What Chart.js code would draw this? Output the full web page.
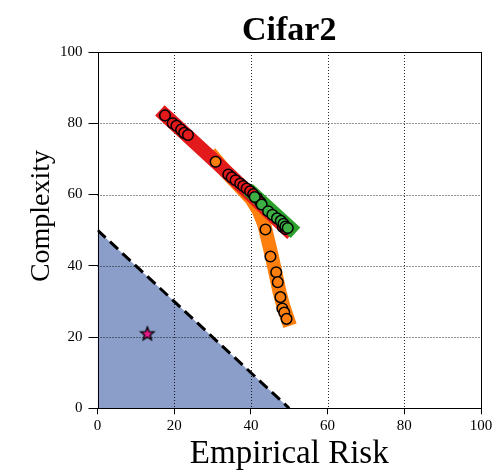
<!DOCTYPE html>
<html>
<head>
<meta charset="utf-8">
<script src="https://cdn.jsdelivr.net/npm/chart.js@4.4.1/dist/chart.umd.min.js"></script>
<style>
  html, body { margin: 0; padding: 0; background: #fff; }
  #wrap { width: 492px; height: 471px; }
</style>
</head>
<body>
<div id="wrap"><canvas id="c" width="492" height="471"></canvas></div>
<script>
// Axis ticks
const xTicks = [0, 20, 40, 60, 80, 100];
const yTicks = [0, 20, 40, 60, 80, 100];

// Feasible region boundary: empirical risk + complexity = 50
const boundary = [[0, 50], [50, 0]];

// Trend bands for each training run
const orangeTrend = [[30.5, 70.2], [33.5, 66.4], [37, 62.4], [40, 59], [42, 55.6], [43.5, 51.5], [44.5, 47], [45.5, 42.5], [46.5, 37.5], [47.5, 32.5], [48.5, 28.5], [49.6, 25]];
const redTrend = [[17.6, 82.3], [34, 66], [49.4, 50.3]];
const greenTrend = [[40.6, 60.2], [50.3, 50.6]];

// Individual checkpoints (empirical risk, complexity)
const orangePts = [[30.8, 69.2], [43.8, 50.2], [45.1, 42.6], [46.6, 38.2], [47.0, 35.4], [47.7, 31.2], [48.2, 28.0], [48.7, 26.9], [49.3, 25.1]];
const redPts = [[17.6, 82.2], [19.6, 80.0], [20.6, 79.3], [21.8, 78.2], [22.6, 77.3], [23.6, 76.7], [34.1, 65.6], [35.0, 64.8], [36.0, 64.0], [37.2, 63.1], [38.0, 62.4], [38.9, 61.7], [39.8, 60.9], [40.6, 60.1], [41.6, 59.0], [42.5, 57.8], [48.3, 50.9], [49.0, 50.3]];
const greenPts = [[41.0, 59.3], [42.8, 57.2], [44.5, 55.3], [45.6, 54.3], [46.8, 53.3], [47.8, 52.6], [48.5, 51.8], [49.0, 51.0], [49.6, 50.6]];
const target = [[13.0, 21.0]];

const SERIF = '"Liberation Serif", "DejaVu Serif", serif';
const toXY = a => a.map(p => ({x: p[0], y: p[1]}));

// Five-pointed star marker
function starMarker(outer, inner, fill) {
  const size = Math.ceil(outer * 2 + 4);
  const cv = document.createElement('canvas');
  cv.width = size; cv.height = size;
  const g = cv.getContext('2d');
  const c = size / 2;
  g.beginPath();
  for (let i = 0; i < 10; i++) {
    const r = i % 2 === 0 ? outer : inner;
    const a = -Math.PI / 2 + i * Math.PI / 5;
    const px = c + r * Math.cos(a), py = c + 0.6 + r * Math.sin(a);
    if (i === 0) g.moveTo(px, py); else g.lineTo(px, py);
  }
  g.closePath();
  g.fillStyle = fill; g.fill();
  g.lineWidth = 1.4; g.strokeStyle = '#000'; g.lineJoin = 'miter'; g.stroke();
  return cv;
}

function band(data, color, order) {
  return {
    type: 'line', data: toXY(data), showLine: true, fill: false,
    borderColor: color, borderWidth: 14, borderCapStyle: 'square', borderJoinStyle: 'round',
    pointRadius: 0, tension: 0, order: order
  };
}
function markers(data, color, order) {
  return {
    type: 'scatter', data: toXY(data), showLine: false,
    pointBackgroundColor: color, pointBorderColor: '#000', pointBorderWidth: 1.5,
    pointRadius: 5.3, order: order
  };
}

// Dotted grid drawn right above the shaded region, below everything else
const gridAboveFill = {
  id: 'gridAboveFill',
  afterDatasetDraw(chart, args) {
    if (args.index !== 0) return;
    const {ctx, chartArea: a, scales: {x, y}} = chart;
    ctx.save();
    ctx.strokeStyle = 'rgba(0,0,0,0.85)';
    ctx.lineWidth = 1;
    ctx.setLineDash([1, 2]);
    xTicks.forEach(v => {
      const px = Math.round(x.getPixelForValue(v)) + 0.5;
      ctx.beginPath(); ctx.moveTo(px, a.top); ctx.lineTo(px, a.bottom); ctx.stroke();
    });
    yTicks.forEach(v => {
      const py = Math.round(y.getPixelForValue(v)) + 0.5;
      ctx.beginPath(); ctx.moveTo(a.left, py); ctx.lineTo(a.right, py); ctx.stroke();
    });
    ctx.restore();
  }
};

// Axes frame and text
const frameAndText = {
  id: 'frameAndText',
  afterDatasetsDraw(chart) {
    const {ctx, chartArea: a} = chart;
    ctx.save();
    ctx.strokeStyle = '#000';
    ctx.lineWidth = 1;
    ctx.strokeRect(Math.round(a.left) + 0.5, Math.round(a.top) + 0.5,
                   Math.round(a.right) - Math.round(a.left), Math.round(a.bottom) - Math.round(a.top));
    ctx.restore();
  },
  afterDraw(chart) {
    const {ctx, chartArea: a} = chart;
    const cx = (a.left + a.right) / 2;
    ctx.save();
    ctx.fillStyle = '#000';
    ctx.textAlign = 'center';
    ctx.textBaseline = 'alphabetic';
    ctx.font = 'bold 34px ' + SERIF;
    ctx.fillText('Cifar2', cx, 40);
    ctx.font = '33px ' + SERIF;
    ctx.fillText('Empirical Risk', cx, 463);
    ctx.translate(49, 216);
    ctx.rotate(-Math.PI / 2);
    ctx.font = '28px ' + SERIF;
    ctx.fillText('Complexity', 0, 0);
    ctx.restore();
  }
};

new Chart(document.getElementById('c'), {
  type: 'scatter',
  data: {
    datasets: [
      { type: 'line', data: toXY(boundary), showLine: true, fill: 'origin',
        backgroundColor: 'rgb(139,158,202)', borderWidth: 0, pointRadius: 0, tension: 0, order: 100 },
      { type: 'line', data: toXY(boundary), showLine: true, fill: false,
        borderColor: '#000', borderWidth: 3, borderDash: [11, 6], pointRadius: 0, tension: 0, order: 90 },
      band(orangeTrend, '#ff7f0e', 80),
      band(redTrend, '#e31a1c', 70),
      band(greenTrend, '#2ca02c', 60),
      markers(orangePts, '#ff7f0e', 50),
      markers(redPts, '#e31a1c', 40),
      markers(greenPts, '#3cb043', 30),
      { type: 'scatter', data: toXY(target), pointStyle: starMarker(7, 3, '#e6198c'),
        pointRadius: 7, order: 20 }
    ]
  },
  options: {
    responsive: false,
    animation: false,
    devicePixelRatio: 1,
    layout: { padding: { top: 52, right: 11, bottom: 0, left: 0 } },
    plugins: { legend: { display: false }, tooltip: { enabled: false }, title: { display: false } },
    scales: {
      x: {
        type: 'linear', min: 0, max: 100,
        afterBuildTicks: s => { s.ticks = xTicks.map(v => ({value: v})); },
        afterFit: s => { s.height = 62.7; s.paddingLeft = 0; s.paddingRight = 0; },
        grid: { drawOnChartArea: false, drawTicks: true, tickLength: 6, color: '#000', lineWidth: 1 },
        border: { display: false },
        ticks: { color: '#000', padding: 3, maxRotation: 0, font: { family: SERIF, size: 15 } }
      },
      y: {
        type: 'linear', min: 0, max: 100,
        afterBuildTicks: s => { s.ticks = yTicks.map(v => ({value: v})); },
        afterFit: s => { s.width = 97.5; s.paddingTop = 0; s.paddingBottom = 0; },
        grid: { drawOnChartArea: false, drawTicks: true, tickLength: 9, color: '#000', lineWidth: 1 },
        border: { display: false },
        ticks: { color: '#000', padding: 6, font: { family: SERIF, size: 15 } }
      }
    }
  },
  plugins: [gridAboveFill, frameAndText]
});
</script>
</body>
</html>
